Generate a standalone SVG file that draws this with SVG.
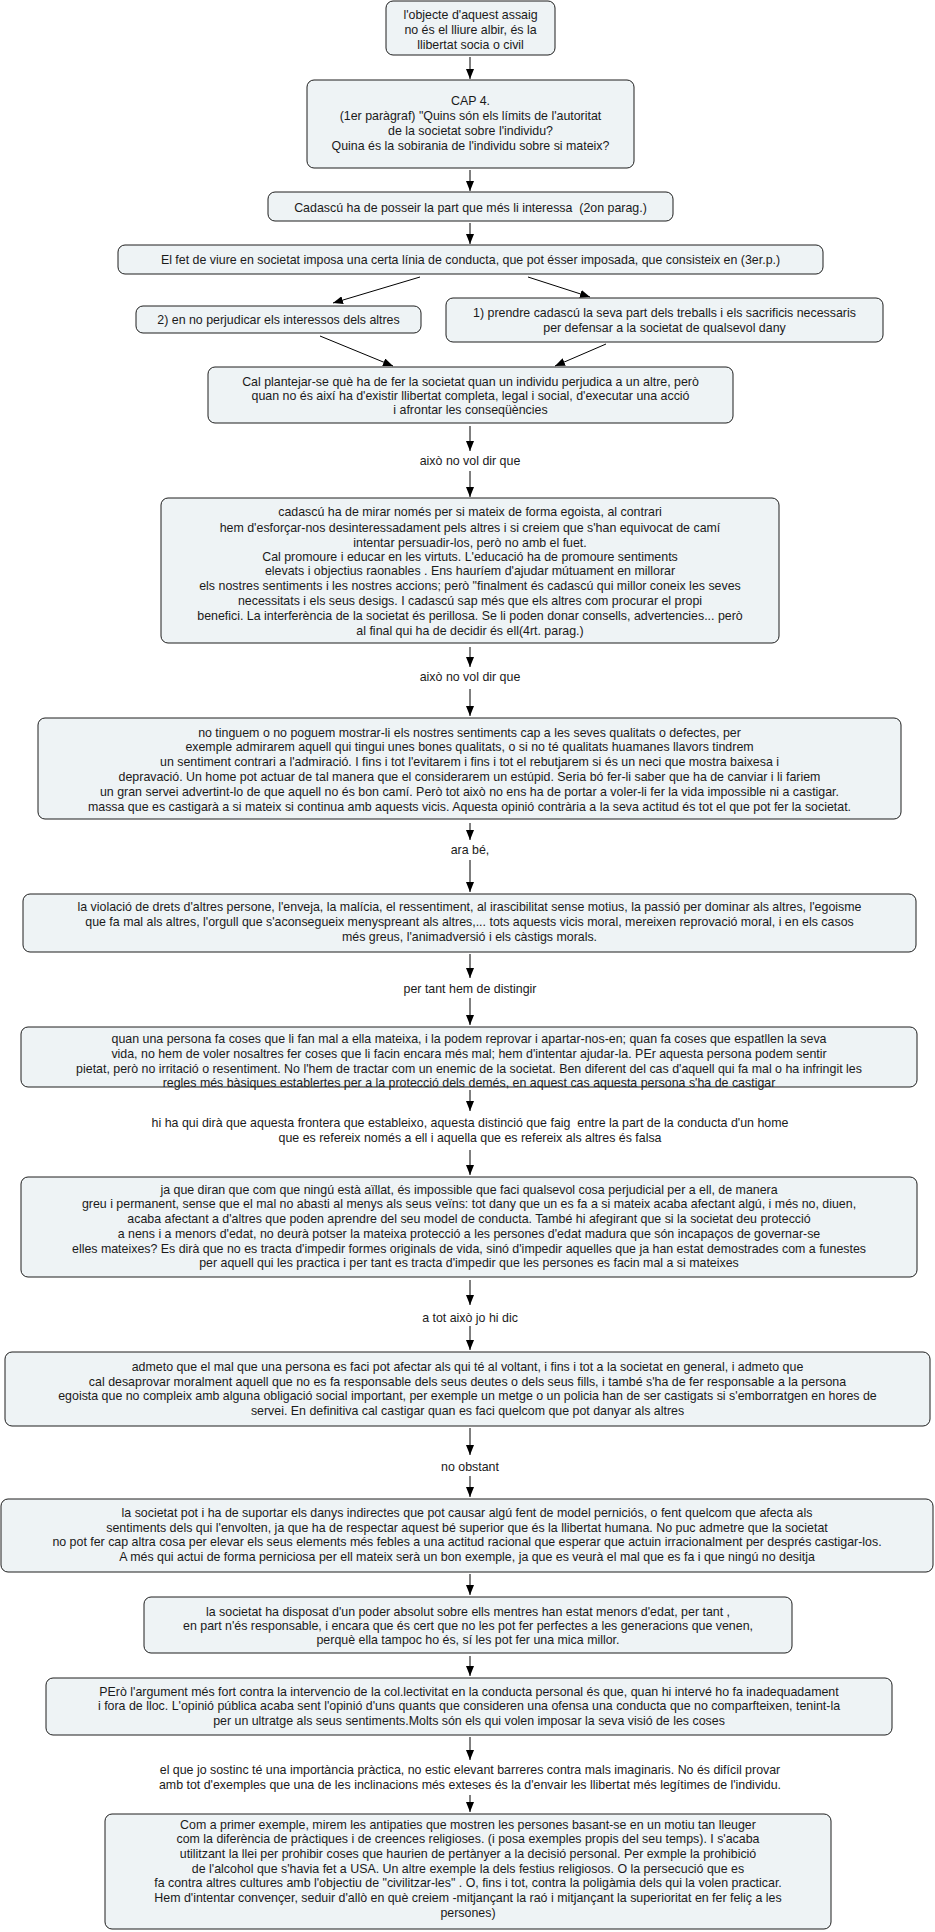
<svg xmlns="http://www.w3.org/2000/svg" width="935" height="1932" viewBox="0 0 935 1932">
<defs>
<style>
.box{fill:#eef3f5;stroke:#1e1e1e;stroke-width:1}
.t{font-family:"Liberation Sans",Arial,sans-serif;font-size:12.4px;fill:#1a1a1a;text-anchor:middle}
.c{stroke:#000;stroke-width:1;fill:none;marker-end:url(#ah)}
</style>
<marker id="ah" viewBox="0 0 10 8" refX="10" refY="4" markerWidth="10" markerHeight="8" markerUnits="userSpaceOnUse" orient="auto">
<path d="M0,0 L10,4 L0,8 z" fill="#000"/>
</marker>
</defs>
<rect width="935" height="1932" fill="#fff"/>
<g id="connectors">
<line class="c" x1="470" y1="57" x2="470" y2="79"/>
<line class="c" x1="470" y1="170" x2="470" y2="191"/>
<line class="c" x1="470" y1="223" x2="470" y2="244"/>
<line class="c" x1="420" y1="277" x2="333" y2="303"/>
<line class="c" x1="528" y1="277" x2="590" y2="297"/>
<line class="c" x1="320" y1="336" x2="393" y2="366"/>
<line class="c" x1="606" y1="344" x2="555" y2="366"/>
<line class="c" x1="470" y1="426" x2="470" y2="451"/>
<line class="c" x1="470" y1="471" x2="470" y2="497"/>
<line class="c" x1="470" y1="647" x2="470" y2="667"/>
<line class="c" x1="470" y1="689" x2="470" y2="716"/>
<line class="c" x1="470" y1="823" x2="470" y2="840"/>
<line class="c" x1="470" y1="860" x2="470" y2="892"/>
<line class="c" x1="470" y1="954" x2="470" y2="978"/>
<line class="c" x1="470" y1="998" x2="470" y2="1025"/>
<line class="c" x1="470" y1="1090" x2="470" y2="1111"/>
<line class="c" x1="470" y1="1150" x2="470" y2="1175"/>
<line class="c" x1="470" y1="1280" x2="470" y2="1305"/>
<line class="c" x1="470" y1="1326" x2="470" y2="1350"/>
<line class="c" x1="470" y1="1428" x2="470" y2="1455"/>
<line class="c" x1="470" y1="1476" x2="470" y2="1497"/>
<line class="c" x1="470" y1="1574" x2="470" y2="1595"/>
<line class="c" x1="470" y1="1656" x2="470" y2="1676"/>
<line class="c" x1="470" y1="1737" x2="470" y2="1760"/>
<line class="c" x1="470" y1="1795" x2="470" y2="1812"/>
</g>
<g id="n1"><rect class="box" x="386" y="1" width="169" height="54" rx="7"/>
<text class="t"><tspan x="470.5" y="19">l'objecte d'aquest assaig</tspan><tspan x="470.5" y="34">no és el lliure albir, és la</tspan><tspan x="470.5" y="49">llibertat socia o civil</tspan></text></g>
<g id="n2"><rect class="box" x="307" y="80" width="327" height="88" rx="7"/>
<text class="t"><tspan x="470.5" y="105">CAP 4.</tspan><tspan x="470.5" y="120">(1er paràgraf) "Quins són els límits de l'autoritat</tspan><tspan x="470.5" y="135">de la societat sobre l'individu?</tspan><tspan x="470.5" y="150">Quina és la sobirania de l'individu sobre si mateix?</tspan></text></g>
<g id="n3"><rect class="box" x="268" y="192" width="405" height="29" rx="7"/>
<text class="t" x="470.5" y="212" xml:space="preserve">Cadascú ha de posseir la part que més li interessa  (2on parag.)</text></g>
<g id="n4"><rect class="box" x="118" y="245" width="705" height="29" rx="7"/>
<text class="t" x="470.5" y="264">El fet de viure en societat imposa una certa línia de conducta, que pot ésser imposada, que consisteix en (3er.p.)</text></g>
<g id="n5"><rect class="box" x="136" y="306" width="285" height="27" rx="7"/>
<text class="t" x="278.5" y="324">2) en no perjudicar els interessos dels altres</text></g>
<g id="n6"><rect class="box" x="446" y="298" width="437" height="44" rx="7"/>
<text class="t"><tspan x="664.5" y="317">1) prendre cadascú la seva part dels treballs i els sacrificis necessaris</tspan><tspan x="664.5" y="332">per defensar a la societat de qualsevol dany</tspan></text></g>
<g id="n7"><rect class="box" x="208" y="367" width="525" height="56" rx="7"/>
<text class="t"><tspan x="470.5" y="386">Cal plantejar-se què ha de fer la societat quan un individu perjudica a un altre, però</tspan><tspan x="470.5" y="400">quan no és així ha d'existir llibertat completa, legal i social, d'executar una acció</tspan><tspan x="470.5" y="414">i afrontar les conseqüències</tspan></text></g>
<g id="l1"><text class="t" x="470" y="465">això no vol dir que</text></g>
<g id="n8"><rect class="box" x="161" y="498" width="618" height="145" rx="7"/>
<text class="t"><tspan x="470" y="516">cadascú ha de mirar només per si mateix de forma egoista, al contrari</tspan><tspan x="470" y="532">hem d'esforçar-nos desinteressadament pels altres i si creiem que s'han equivocat de camí</tspan><tspan x="470" y="547">intentar persuadir-los, però no amb el fuet.</tspan><tspan x="470" y="561">Cal promoure i educar en les virtuts. L'educació ha de promoure sentiments</tspan><tspan x="470" y="575">elevats i objectius raonables . Ens hauríem d'ajudar mútuament en millorar</tspan><tspan x="470" y="590">els nostres sentiments i les nostres accions; però "finalment és cadascú qui millor coneix les seves</tspan><tspan x="470" y="605">necessitats i els seus desigs. I cadascú sap més que els altres com procurar el propi</tspan><tspan x="470" y="620">benefici. La interferència de la societat és perillosa. Se li poden donar consells, advertencies... però</tspan><tspan x="470" y="635">al final qui ha de decidir és ell(4rt. parag.)</tspan></text></g>
<g id="l2"><text class="t" x="470" y="681">això no vol dir que</text></g>
<g id="n9"><rect class="box" x="38" y="718" width="863" height="101" rx="7"/>
<text class="t"><tspan x="469.5" y="737">no tinguem o no poguem mostrar-li els nostres sentiments cap a les seves qualitats o defectes, per</tspan><tspan x="469.5" y="751">exemple admirarem aquell qui tingui unes bones qualitats, o si no té qualitats huamanes llavors tindrem</tspan><tspan x="469.5" y="766">un sentiment contrari a l'admiració. I fins i tot l'evitarem i fins i tot el rebutjarem si és un neci que mostra baixesa i</tspan><tspan x="469.5" y="781">depravació. Un home pot actuar de tal manera que el considerarem un estúpid. Seria bó fer-li saber que ha de canviar i li fariem</tspan><tspan x="469.5" y="796">un gran servei advertint-lo de que aquell no és bon camí. Però tot això no ens ha de portar a voler-li fer la vida impossible ni a castigar.</tspan><tspan x="469.5" y="811">massa que es castigarà a si mateix si continua amb aquests vicis. Aquesta opinió contrària a la seva actitud és tot el que pot fer la societat.</tspan></text></g>
<g id="l3"><text class="t" x="470" y="854">ara bé,</text></g>
<g id="n10"><rect class="box" x="23" y="894" width="893" height="58" rx="7"/>
<text class="t"><tspan x="469.5" y="911">la violació de drets d'altres persone, l'enveja, la malícia, el ressentiment, al irascibilitat sense motius, la passió per dominar als altres, l'egoisme</tspan><tspan x="469.5" y="926">que fa mal als altres, l'orgull que s'aconsegueix menyspreant als altres,... tots aquests vicis moral, mereixen reprovació moral, i en els casos</tspan><tspan x="469.5" y="941">més greus, l'animadversió i els càstigs morals.</tspan></text></g>
<g id="l4"><text class="t" x="470" y="993">per tant hem de distingir</text></g>
<g id="n11"><rect class="box" x="21" y="1027" width="896" height="60" rx="7"/>
<text class="t"><tspan x="469" y="1043">quan una persona fa coses que li fan mal a ella mateixa, i la podem reprovar i apartar-nos-en; quan fa coses que espatllen la seva</tspan><tspan x="469" y="1058">vida, no hem de voler nosaltres fer coses que li facin encara més mal; hem d'intentar ajudar-la. PEr aquesta persona podem sentir</tspan><tspan x="469" y="1073">pietat, però no irritació o resentiment. No l'hem de tractar com un enemic de la societat. Ben diferent del cas d'aquell qui fa mal o ha infringit les</tspan><tspan x="469" y="1087">regles més bàsiques establertes per a la protecció dels demés, en aquest cas aquesta persona s'ha de castigar</tspan></text></g>
<g id="l5"><text class="t" xml:space="preserve"><tspan x="470" y="1127">hi ha qui dirà que aquesta frontera que estableixo, aquesta distinció que faig  entre la part de la conducta d'un home</tspan><tspan x="470" y="1142">que es refereix només a ell i aquella que es refereix als altres és falsa</tspan></text></g>
<g id="n12"><rect class="box" x="21" y="1177" width="896" height="100" rx="7"/>
<text class="t"><tspan x="469" y="1194">ja que diran que com que ningú està aïllat, és impossible que faci qualsevol cosa perjudicial per a ell, de manera</tspan><tspan x="469" y="1208">greu i permanent, sense que el mal no abasti al menys als seus veïns: tot dany que un es fa a si mateix acaba afectant algú, i més no, diuen,</tspan><tspan x="469" y="1223">acaba afectant a d'altres que poden aprendre del seu model de conducta. També hi afegirant que si la societat deu protecció</tspan><tspan x="469" y="1238">a nens i a menors d'edat, no deurà potser la mateixa protecció a les persones d'edat madura que són incapaços de governar-se</tspan><tspan x="469" y="1253">elles mateixes? Es dirà que no es tracta d'impedir formes originals de vida, sinó d'impedir aquelles que ja han estat demostrades com a funestes</tspan><tspan x="469" y="1267">per aquell qui les practica i per tant es tracta d'impedir que les persones es facin mal a si mateixes</tspan></text></g>
<g id="l6"><text class="t" x="470" y="1322">a tot això jo hi dic</text></g>
<g id="n13"><rect class="box" x="5" y="1352" width="925" height="74" rx="7"/>
<text class="t"><tspan x="467.5" y="1371">admeto que el mal que una persona es faci pot afectar als qui té al voltant, i fins i tot a la societat en general, i admeto que</tspan><tspan x="467.5" y="1386">cal desaprovar moralment aquell que no es fa responsable dels seus deutes o dels seus fills, i també s'ha de fer responsable a la persona</tspan><tspan x="467.5" y="1400">egoista que no compleix amb alguna obligació social important, per exemple un metge o un policia han de ser castigats si s'emborratgen en hores de</tspan><tspan x="467.5" y="1415">servei. En definitiva cal castigar quan es faci quelcom que pot danyar als altres</tspan></text></g>
<g id="l7"><text class="t" x="470" y="1471">no obstant</text></g>
<g id="n14"><rect class="box" x="1" y="1499" width="932" height="73" rx="7"/>
<text class="t"><tspan x="467" y="1517">la societat pot i ha de suportar els danys indirectes que pot causar algú fent de model perniciós, o fent quelcom que afecta als</tspan><tspan x="467" y="1532">sentiments dels qui l'envolten, ja que ha de respectar aquest bé superior que és la llibertat humana. No puc admetre que la societat</tspan><tspan x="467" y="1546">no pot fer cap altra cosa per elevar els seus elements més febles a una actitud racional que esperar que actuin irracionalment per després castigar-los.</tspan><tspan x="467" y="1561">A més qui actui de forma perniciosa per ell mateix serà un bon exemple, ja que es veurà el mal que es fa i que ningú no desitja</tspan></text></g>
<g id="n15"><rect class="box" x="144" y="1597" width="648" height="56" rx="7"/>
<text class="t"><tspan x="468" y="1616">la societat ha disposat d'un poder absolut sobre ells mentres han estat menors d'edat, per tant ,</tspan><tspan x="468" y="1630">en part n'és responsable, i encara que és cert que no les pot fer perfectes a les generacions que venen,</tspan><tspan x="468" y="1644">perquè ella tampoc ho és, sí les pot fer una mica millor.</tspan></text></g>
<g id="n16"><rect class="box" x="46" y="1678" width="846" height="57" rx="7"/>
<text class="t"><tspan x="469" y="1696">PErò l'argument més fort contra la intervencio de la col.lectivitat en la conducta personal és que, quan hi intervé ho fa inadequadament</tspan><tspan x="469" y="1710">i fora de lloc. L'opinió pública acaba sent l'opinió d'uns quants que consideren una ofensa una conducta que no comparfteixen, tenint-la</tspan><tspan x="469" y="1725">per un ultratge als seus sentiments.Molts són els qui volen imposar la seva visió de les coses</tspan></text></g>
<g id="l8"><text class="t"><tspan x="470" y="1774">el que jo sostinc té una importància pràctica, no estic elevant barreres contra mals imaginaris. No és difícil provar</tspan><tspan x="470" y="1789">amb tot d'exemples que una de les inclinacions més exteses és la d'envair les llibertat més legítimes de l'individu.</tspan></text></g>
<g id="n17"><rect class="box" x="105" y="1814" width="726" height="115" rx="7"/>
<text class="t"><tspan x="468" y="1829">Com a primer exemple, mirem les antipaties que mostren les persones basant-se en un motiu tan lleuger</tspan><tspan x="468" y="1843">com la diferència de pràctiques i de creences religioses. (i posa exemples propis del seu temps). I s'acaba</tspan><tspan x="468" y="1858">utilitzant la llei per prohibir coses que haurien de pertànyer a la decisió personal. Per exmple la prohibició</tspan><tspan x="468" y="1873">de l'alcohol que s'havia fet a USA. Un altre exemple la dels festius religiosos. O la persecució que es</tspan><tspan x="468" y="1887">fa contra altres cultures amb l'objectiu de "civilitzar-les" . O, fins i tot, contra la poligàmia dels qui la volen practicar.</tspan><tspan x="468" y="1902">Hem d'intentar convençer, seduir d'allò en què creiem -mitjançant la raó i mitjançant la superioritat en fer feliç a les</tspan><tspan x="468" y="1917">persones)</tspan></text></g>
</svg>
